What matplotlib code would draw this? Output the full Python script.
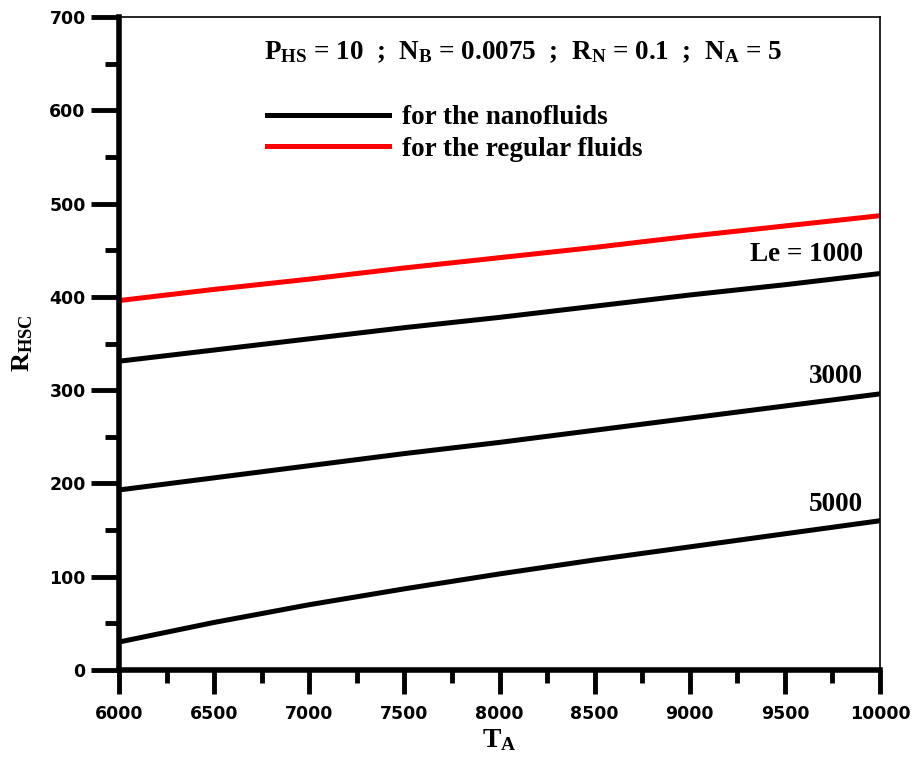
import numpy as np
import matplotlib
matplotlib.use("Agg")
import matplotlib.pyplot as plt
from matplotlib.ticker import MultipleLocator

plt.rcParams['mathtext.fontset'] = 'custom'
plt.rcParams['mathtext.rm'] = 'Liberation Serif:bold'
plt.rcParams['mathtext.it'] = 'Liberation Serif:bold'
plt.rcParams['mathtext.bf'] = 'Liberation Serif:bold'

# data
ta = [6000, 6500, 7000, 7500, 8000, 8500, 9000, 9500, 10000]
r_regular = [396, 408, 419, 431, 442, 453, 465, 476, 487]
r_le1000 = [331, 343, 355, 367, 378, 390, 402, 413, 425]
r_le3000 = [193, 206, 219, 232, 244, 257, 270, 283, 296]
r_le5000 = [30, 51, 70, 87, 103, 118, 132, 146, 160]

fig = plt.figure(figsize=(9.13, 7.57), dpi=100)
ax = fig.add_axes([119/913, 1-670/757, 761/913, 653/757])

lw = 3.6
ax.plot(ta, r_le1000, c='k', lw=lw, label='for the nanofluids')
ax.plot(ta, r_regular, c='#ff0000', lw=lw, label='for the regular fluids')
ax.plot(ta, r_le3000, c='k', lw=lw)
ax.plot(ta, r_le5000, c='k', lw=lw)

ax.set_xlim(6000, 10000)
ax.set_ylim(0, 700)
ax.xaxis.set_major_locator(MultipleLocator(500))
ax.xaxis.set_minor_locator(MultipleLocator(250))
ax.yaxis.set_major_locator(MultipleLocator(100))
ax.yaxis.set_minor_locator(MultipleLocator(50))

ax.spines['left'].set_linewidth(4)
ax.spines['bottom'].set_linewidth(4)
ax.spines['top'].set_linewidth(1.2)
ax.spines['right'].set_linewidth(1.2)

ax.tick_params(axis='x', which='major', direction='out', length=17, width=3.5, pad=8)
ax.tick_params(axis='x', which='minor', direction='out', length=9, width=3.5)
ax.tick_params(axis='y', which='major', direction='out', length=20, width=3.5, pad=4)
ax.tick_params(axis='y', which='minor', direction='out', length=10, width=3.5)
for lab in ax.get_xticklabels() + ax.get_yticklabels():
    lab.set_fontfamily('DejaVu Sans')
    lab.set_fontweight('bold')
    lab.set_fontsize(12.5)

ax.set_xlabel(r'$T_A$', fontsize=20, labelpad=2)
ax.set_ylabel(r'$R_{HSC}$', fontsize=19, labelpad=10)

fig.text(523/913, 1-52/757,
         r'$P_{HS}$ = 10  ;  $N_B$ = 0.0075  ;  $R_N$ = 0.1  ;  $N_A$ = 5',
         family='Liberation Serif', fontweight='bold', fontsize=19.5,
         ha='center', va='center')

txt = dict(family='Liberation Serif', fontweight='bold', fontsize=19.5, ha='right', va='center')
ax.text(9910, 445, 'Le = 1000', **txt)
ax.text(9910, 315, '3000', **txt)
ax.text(9910, 177, '5000', **txt)

leg = ax.legend(loc='upper left', bbox_to_anchor=(267/913, 1-105/757),
                bbox_transform=fig.transFigure, frameon=False,
                prop={'family': 'Liberation Serif', 'weight': 'bold', 'size': 19.5},
                handlelength=4.5, handletextpad=0.5, labelspacing=0.25,
                borderpad=0, borderaxespad=0)

fig.savefig('out.png', dpi=100)
